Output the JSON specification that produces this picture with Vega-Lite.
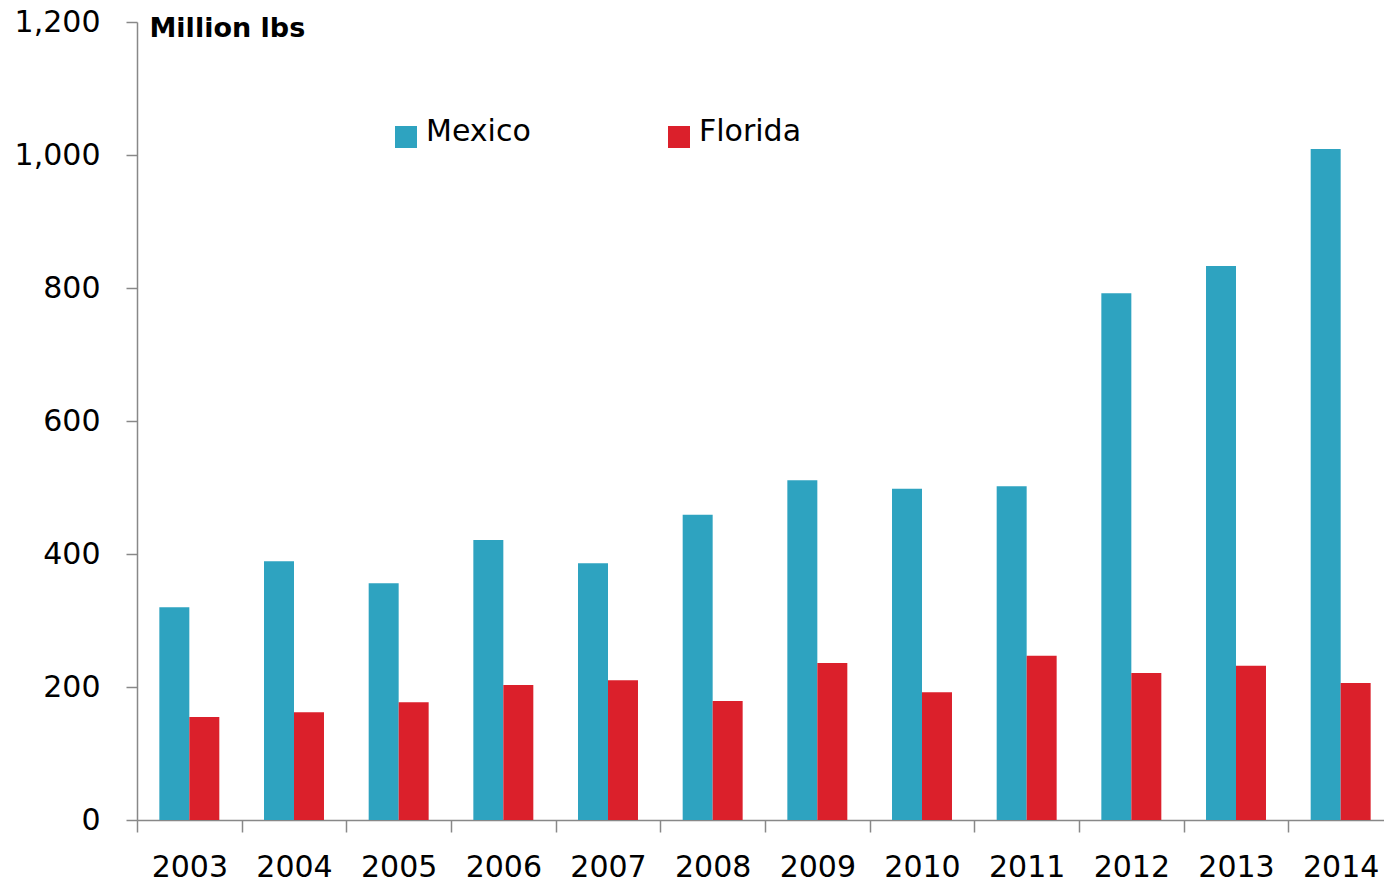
{
  "$schema": "https://vega.github.io/schema/vega-lite/v6.json",
  "autosize": "none",
  "padding": {"left": 137, "top": 22, "right": 5, "bottom": 65},
  "width": 1256,
  "height": 798,
  "background": "white",
  "config": {"view": {"stroke": null}, "font": "DejaVu Sans"},
  "data": {"values": [
    {"year": "2003", "region": "Mexico", "value": 320},
    {"year": "2004", "region": "Mexico", "value": 389},
    {"year": "2005", "region": "Mexico", "value": 356},
    {"year": "2006", "region": "Mexico", "value": 421},
    {"year": "2007", "region": "Mexico", "value": 386},
    {"year": "2008", "region": "Mexico", "value": 459},
    {"year": "2009", "region": "Mexico", "value": 511},
    {"year": "2010", "region": "Mexico", "value": 498},
    {"year": "2011", "region": "Mexico", "value": 502},
    {"year": "2012", "region": "Mexico", "value": 792},
    {"year": "2013", "region": "Mexico", "value": 833},
    {"year": "2014", "region": "Mexico", "value": 1009},
    {"year": "2003", "region": "Florida", "value": 155},
    {"year": "2004", "region": "Florida", "value": 162},
    {"year": "2005", "region": "Florida", "value": 177},
    {"year": "2006", "region": "Florida", "value": 203},
    {"year": "2007", "region": "Florida", "value": 210},
    {"year": "2008", "region": "Florida", "value": 179},
    {"year": "2009", "region": "Florida", "value": 236},
    {"year": "2010", "region": "Florida", "value": 192},
    {"year": "2011", "region": "Florida", "value": 247},
    {"year": "2012", "region": "Florida", "value": 221},
    {"year": "2013", "region": "Florida", "value": 232},
    {"year": "2014", "region": "Florida", "value": 206}
  ]},
  "mark": {"type": "bar"},
  "encoding": {
    "x": {
      "field": "year", "type": "nominal",
      "scale": {"paddingInner": 0, "paddingOuter": 0},
      "axis": {
        "title": null, "labelAngle": 0, "labelFontSize": 30, "labelColor": "#000000",
        "labelFont": "DejaVu Sans", "tickBand": "extent", "tickSize": 12, "tickColor": "#888888",
        "tickWidth": 1.5, "domainColor": "#888888", "domainWidth": 1.5,
        "labelPadding": 20, "labelBaseline": "top"
      }
    },
    "xOffset": {
      "field": "region", "type": "nominal",
      "sort": ["Mexico", "Florida"],
      "scale": {"domain": ["Mexico", "Florida"], "paddingInner": 0, "paddingOuter": 0.745}
    },
    "y": {
      "field": "value", "type": "quantitative",
      "scale": {"domain": [0, 1200], "nice": false},
      "axis": {
        "values": [0, 200, 400, 600, 800, 1000, 1200],
        "format": ",d", "grid": false,
        "labelFontSize": 30, "labelColor": "#000000", "labelFont": "DejaVu Sans",
        "tickSize": 11, "tickColor": "#888888", "tickWidth": 1.5,
        "domainColor": "#888888", "domainWidth": 1.5, "labelPadding": 26,
        "title": "Million lbs", "titleAngle": 0, "titleAlign": "left", "titleBaseline": "alphabetic",
        "titleX": 12, "titleY": 14, "titleFontSize": 27, "titleFontWeight": "bold",
        "titleColor": "#000000", "titleFont": "DejaVu Sans"
      }
    },
    "color": {
      "field": "region", "type": "nominal",
      "scale": {"domain": ["Mexico", "Florida"], "range": ["#2ea3c0", "#db202b"]},
      "legend": {
        "title": null, "orient": "none", "legendX": 254, "legendY": 100,
        "direction": "horizontal", "columns": 2, "columnPadding": 133,
        "symbolType": "square", "symbolSize": 484, "symbolStrokeWidth": 0,
        "labelFontSize": 30, "labelColor": "#000000", "labelFont": "DejaVu Sans",
        "labelOffset": 5, "padding": 0, "labelLimit": 300,
        "encode": {"labels": {"update": {"dy": {"value": -5}}}}
      }
    }
  }
}
